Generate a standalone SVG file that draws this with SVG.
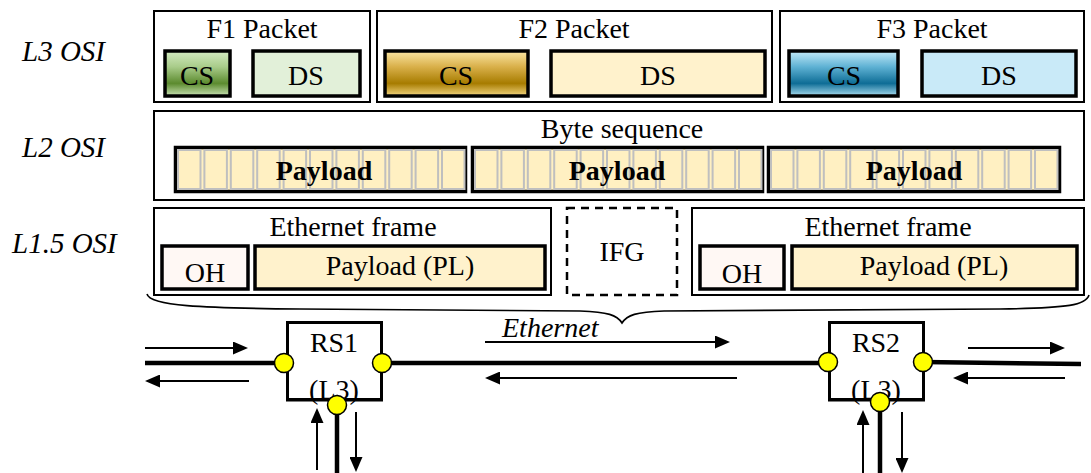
<svg xmlns="http://www.w3.org/2000/svg" width="1091" height="473" viewBox="0 0 1091 473">
  <style>
    text { font-family: "Liberation Serif", "Times New Roman", serif; font-size: 28px; fill: #000; }
    .lbl { font-style: italic; font-size: 29px; }
    .mid { text-anchor: middle; }
    .bold { font-weight: bold; }
    .outer { fill: #fff; stroke: #000; stroke-width: 2; }
    .thick { stroke: #000; stroke-width: 3.5; }
    .cell { fill: #fff0c2; stroke: #bfbfbf; stroke-width: 2; }
    .seg { fill: #fff0c2; stroke: #000; stroke-width: 3.5; }
    .node { fill: #fff; stroke: #000; stroke-width: 3; }
    .port { fill: #ffff00; stroke: #000; stroke-width: 1.5; }
    .link { stroke: #000; stroke-width: 4.5; fill: none; }
    .arrow { stroke: #000; stroke-width: 2; fill: none; marker-end: url(#head); }
  </style>
  <defs>
    <linearGradient id="gGreen" x1="0" y1="0" x2="0" y2="1">
      <stop offset="0" stop-color="#d4ebc2"/>
      <stop offset="0.35" stop-color="#a9cc8a"/>
      <stop offset="0.72" stop-color="#5c8b2f"/>
      <stop offset="1" stop-color="#c9e2b4"/>
    </linearGradient>
    <linearGradient id="gGold" x1="0" y1="0" x2="0" y2="1">
      <stop offset="0" stop-color="#fbe6a4"/>
      <stop offset="0.35" stop-color="#d9b04a"/>
      <stop offset="0.72" stop-color="#a77c00"/>
      <stop offset="1" stop-color="#f3d681"/>
    </linearGradient>
    <linearGradient id="gBlue" x1="0" y1="0" x2="0" y2="1">
      <stop offset="0" stop-color="#c4eaf8"/>
      <stop offset="0.35" stop-color="#5fb2d4"/>
      <stop offset="0.72" stop-color="#0e6d96"/>
      <stop offset="1" stop-color="#a9dcef"/>
    </linearGradient>
    <marker id="head" markerUnits="userSpaceOnUse" markerWidth="15" markerHeight="13" refX="3" refY="6.5" orient="auto">
      <path d="M0,0 L15,6.5 L0,13 Z" fill="#000"/>
    </marker>
  </defs>

  <!-- layer labels -->
  <g id="label-l3"><text class="lbl" x="22" y="61">L3 OSI</text></g>
  <g id="label-l2"><text class="lbl" x="22" y="157">L2 OSI</text></g>
  <g id="label-l15"><text class="lbl" x="12" y="253">L1.5 OSI</text></g>

  <!-- L3: packets -->
  <g id="f1-packet">
    <rect class="outer" x="154" y="11" width="216" height="91"/>
    <text class="mid" x="262" y="38">F1 Packet</text>
    <rect class="thick" fill="url(#gGreen)" x="165" y="51" width="65" height="45"/>
    <text class="mid" x="197" y="85">CS</text>
    <rect class="thick" fill="#e2f0d9" x="253" y="51" width="107" height="45"/>
    <text class="mid" x="306" y="85">DS</text>
  </g>
  <g id="f2-packet">
    <rect class="outer" x="377" y="11" width="395" height="91"/>
    <text class="mid" x="574" y="38">F2 Packet</text>
    <rect class="thick" fill="url(#gGold)" x="385" y="51" width="143" height="45"/>
    <text class="mid" x="456" y="85">CS</text>
    <rect class="thick" fill="#fff2cc" x="551" y="51" width="214" height="45"/>
    <text class="mid" x="658" y="85">DS</text>
  </g>
  <g id="f3-packet">
    <rect class="outer" x="780" y="11" width="304" height="91"/>
    <text class="mid" x="932" y="38">F3 Packet</text>
    <rect class="thick" fill="url(#gBlue)" x="789" y="51" width="109" height="45"/>
    <text class="mid" x="844" y="85">CS</text>
    <rect class="thick" fill="#c9eaf8" x="922" y="51" width="154" height="45"/>
    <text class="mid" x="999" y="85">DS</text>
  </g>

  <!-- L2: byte sequence -->
  <g id="byte-sequence">
    <rect class="outer" x="154" y="111" width="930" height="89"/>
    <text class="mid" x="622" y="138">Byte sequence</text>
    <rect class="seg" x="175.5" y="147.5" width="290" height="44"/>
    <g>
      <rect class="cell" x="178" y="150" width="22.5" height="39"/>
      <rect class="cell" x="204.4" y="150" width="22.5" height="39"/>
      <rect class="cell" x="230.8" y="150" width="22.5" height="39"/>
      <rect class="cell" x="257.2" y="150" width="22.5" height="39"/>
      <rect class="cell" x="283.6" y="150" width="22.5" height="39"/>
      <rect class="cell" x="310" y="150" width="22.5" height="39"/>
      <rect class="cell" x="336.4" y="150" width="22.5" height="39"/>
      <rect class="cell" x="362.8" y="150" width="22.5" height="39"/>
      <rect class="cell" x="389.2" y="150" width="22.5" height="39"/>
      <rect class="cell" x="415.6" y="150" width="22.5" height="39"/>
      <rect class="cell" x="442" y="150" width="22.5" height="39"/>
    </g>
    <text class="mid bold" x="324" y="180">Payload</text>
    <rect class="seg" x="472.5" y="147.5" width="290" height="44"/>
    <g>
      <rect class="cell" x="475" y="150" width="22.5" height="39"/>
      <rect class="cell" x="501.4" y="150" width="22.5" height="39"/>
      <rect class="cell" x="527.8" y="150" width="22.5" height="39"/>
      <rect class="cell" x="554.2" y="150" width="22.5" height="39"/>
      <rect class="cell" x="580.6" y="150" width="22.5" height="39"/>
      <rect class="cell" x="607" y="150" width="22.5" height="39"/>
      <rect class="cell" x="633.4" y="150" width="22.5" height="39"/>
      <rect class="cell" x="659.8" y="150" width="22.5" height="39"/>
      <rect class="cell" x="686.2" y="150" width="22.5" height="39"/>
      <rect class="cell" x="712.6" y="150" width="22.5" height="39"/>
      <rect class="cell" x="739" y="150" width="22.5" height="39"/>
    </g>
    <text class="mid bold" x="617" y="180">Payload</text>
    <rect class="seg" x="768.5" y="147.5" width="291" height="44"/>
    <g>
      <rect class="cell" x="771" y="150" width="22.5" height="39"/>
      <rect class="cell" x="797.4" y="150" width="22.5" height="39"/>
      <rect class="cell" x="823.8" y="150" width="22.5" height="39"/>
      <rect class="cell" x="850.2" y="150" width="22.5" height="39"/>
      <rect class="cell" x="876.6" y="150" width="22.5" height="39"/>
      <rect class="cell" x="903" y="150" width="22.5" height="39"/>
      <rect class="cell" x="929.4" y="150" width="22.5" height="39"/>
      <rect class="cell" x="955.8" y="150" width="22.5" height="39"/>
      <rect class="cell" x="982.2" y="150" width="22.5" height="39"/>
      <rect class="cell" x="1008.6" y="150" width="22.5" height="39"/>
      <rect class="cell" x="1035" y="150" width="22.5" height="39"/>
    </g>
    <text class="mid bold" x="914" y="180">Payload</text>
  </g>

  <!-- L1.5: Ethernet frames and inter-frame gap -->
  <g id="frame-1">
    <rect class="outer" x="154" y="208" width="397" height="87"/>
    <text class="mid" x="353" y="236">Ethernet frame</text>
    <rect class="thick" fill="#fff8f4" x="162" y="246" width="86" height="43"/>
    <text class="mid" x="205" y="282">OH</text>
    <rect class="thick" fill="#fff2cc" x="255" y="246" width="290" height="43"/>
    <text class="mid" x="400" y="275">Payload (PL)</text>
  </g>
  <g id="ifg">
    <rect x="567" y="208" width="110" height="87" fill="#fff" stroke="#000" stroke-width="2.5" stroke-dasharray="8,6"/>
    <text class="mid" x="622" y="261">IFG</text>
  </g>
  <g id="frame-2">
    <rect class="outer" x="692" y="208" width="392" height="87"/>
    <text class="mid" x="888" y="236">Ethernet frame</text>
    <rect class="thick" fill="#fff8f4" x="700" y="246" width="84" height="43"/>
    <text class="mid" x="742" y="283">OH</text>
    <rect class="thick" fill="#fff2cc" x="792" y="246" width="285" height="43"/>
    <text class="mid" x="934" y="275">Payload (PL)</text>
  </g>

  <!-- brace spanning the frames -->
  <g id="brace">
    <path d="M147,294 C150,306 200,308 300,309 L580,311 C608,312 617,315 622,323 C627,315 636,312 664,311 L1000,309 C1070,308 1086,305 1089,295" fill="none" stroke="#000" stroke-width="1.6"/>
    <text x="502" y="337" font-style="italic">Ethernet</text>
  </g>

  <!-- links and traffic arrows -->
  <g id="connectors">
    <line class="link" x1="145" y1="363" x2="284" y2="363"/>
    <line class="link" x1="382" y1="363" x2="828" y2="363"/>
    <line class="link" x1="923" y1="362" x2="1081" y2="364"/>
    <line class="link" x1="337" y1="405" x2="337" y2="473"/>
    <line class="link" x1="880" y1="402" x2="880" y2="473"/>
    <line class="arrow" x1="145" y1="348" x2="236" y2="348"/>
    <line class="arrow" x1="249" y1="381" x2="157" y2="381"/>
    <line class="arrow" x1="317" y1="470" x2="317" y2="420"/>
    <line class="arrow" x1="356" y1="412" x2="356" y2="460"/>
    <line class="arrow" x1="485" y1="342" x2="718" y2="342"/>
    <line class="arrow" x1="737" y1="378" x2="497" y2="378"/>
    <line class="arrow" x1="968" y1="348" x2="1053" y2="348"/>
    <line class="arrow" x1="1065" y1="378" x2="965" y2="378"/>
    <line class="arrow" x1="863" y1="473" x2="863" y2="422"/>
    <line class="arrow" x1="902" y1="412" x2="902" y2="461"/>
  </g>

  <!-- routers -->
  <g id="rs1">
    <rect class="node" x="287.5" y="322.5" width="94" height="77"/>
    <text class="mid" x="334" y="352">RS1</text>
    <text class="mid" x="334" y="399">(L3)</text>
    <line x1="286" y1="400" x2="383" y2="400" stroke="#000" stroke-width="3"/>
    <circle class="port" cx="284" cy="363" r="9.5"/>
    <circle class="port" cx="382" cy="363" r="9.5"/>
    <circle class="port" cx="337" cy="405" r="9.5"/>
  </g>
  <g id="rs2">
    <rect class="node" x="829.5" y="322.5" width="94" height="77"/>
    <text class="mid" x="876" y="352">RS2</text>
    <text class="mid" x="876" y="399">(L3)</text>
    <line x1="828" y1="400" x2="925" y2="400" stroke="#000" stroke-width="3"/>
    <circle class="port" cx="828" cy="362" r="9.5"/>
    <circle class="port" cx="923" cy="362" r="9.5"/>
    <circle class="port" cx="880" cy="402" r="9.5"/>
  </g>
</svg>
